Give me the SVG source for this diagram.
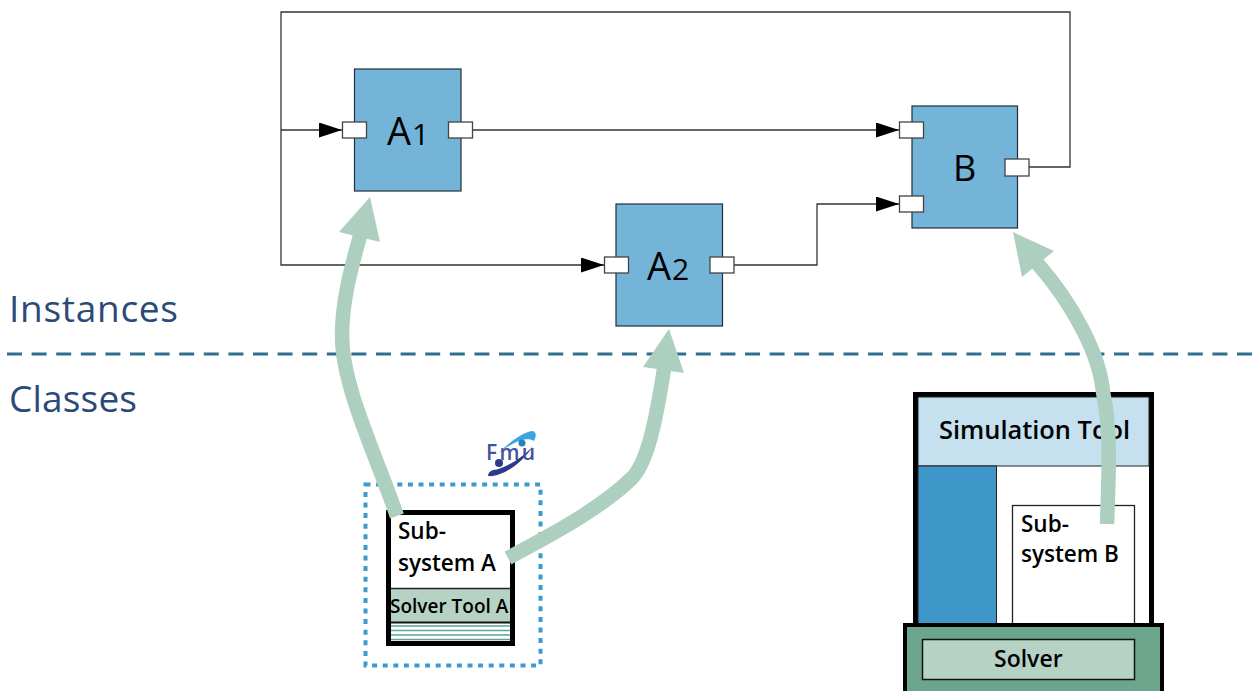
<svg xmlns="http://www.w3.org/2000/svg" width="1256" height="691" viewBox="0 0 1256 691">
<style>
text{font-family:"Open Sans","Noto Sans","DejaVu Sans",sans-serif}
.block{fill:#73b4d8;stroke:#1f2f3a;stroke-width:1.2}
.port{fill:#fff;stroke:#444;stroke-width:1.3}
.wire{fill:none;stroke:#333;stroke-width:1.3}
.flow{fill:none;stroke:#accfbf;stroke-width:14.5}
.head{fill:#accfbf}
.big{fill:#000;font-size:38px}
.sub{font-size:30px}
.lab{fill:#000;font-weight:600;font-size:22.500px}
.side{fill:#2b4a78;font-size:37px}
</style>
<defs>
<marker id="arr" markerUnits="userSpaceOnUse" markerWidth="24" markerHeight="16" refX="23" refY="7.5" orient="auto"><path d="M0 0L23 7.5L0 15Z" fill="#000"/></marker>
</defs>
<g id="divider"><path d="M7 354H1256" fill="none" stroke="#2f6f92" stroke-width="3" stroke-dasharray="15 9.6"/></g>
<text class="side" x="9" y="322" textLength="169" lengthAdjust="spacing">Instances</text>
<text class="side" x="9" y="412" textLength="128" lengthAdjust="spacing">Classes</text>
<g id="connectors">
<path class="wire" d="M1029 167H1070V12H281V265H604" marker-end="url(#arr)"/>
<path class="wire" d="M281 130H342" marker-end="url(#arr)"/>
<path class="wire" d="M472 130H899" marker-end="url(#arr)"/>
<path class="wire" d="M734 265H817V204H899" marker-end="url(#arr)"/>
</g>
<g id="A1"><rect class="block" x="354.500" y="69" width="106.500" height="122"/><rect class="port" x="342.500" y="122" width="24" height="16"/><rect class="port" x="448.500" y="122" width="24" height="16"/><text class="big" x="387" y="145">A<tspan class="sub" dx="1">1</tspan></text></g>
<g id="A2"><rect class="block" x="616" y="204" width="106.500" height="122"/><rect class="port" x="604.500" y="257" width="24" height="16"/><rect class="port" x="710" y="257" width="24" height="16"/><text class="big" x="647" y="280">A<tspan class="sub" dx="1">2</tspan></text></g>
<g id="B"><rect class="block" x="912" y="106" width="105.500" height="122"/><rect class="port" x="899.500" y="122" width="24" height="16"/><rect class="port" x="899.500" y="196" width="24" height="16"/><rect class="port" x="1005" y="159" width="24" height="17"/><text class="big" x="953" y="181" style="font-size:36px">B</text></g>
<g id="subsystem-a">
<rect x="365.500" y="484.500" width="175" height="181" fill="none" stroke="#3d9ad0" stroke-width="4" stroke-dasharray="5 5.600"/>
<rect x="388.500" y="512.500" width="124" height="131" fill="#fff" stroke="#000" stroke-width="5"/>
<rect x="391" y="588.500" width="119" height="33.500" fill="#b5d2c5"/>
<path d="M391 588.500H510" stroke="#222" stroke-width="1.300" fill="none"/><path d="M391 622.500H510" stroke="#111" stroke-width="2" fill="none"/>
<path d="M391 626H510M391 630.500H510M391 635H510M391 639.500H510" stroke="#5fa398" stroke-width="1.600" fill="none"/>
<text class="lab" x="398" y="539">Sub-</text><text class="lab" x="398" y="571">system A</text>
<text x="390" y="613" fill="#000" font-weight="600" font-size="19">Solver Tool A</text>
</g>
<g id="fmu-logo">
<path d="M498 454C510 441 525 431 533 431C537 433 536 437 534 441C527 436 512 442 498 454Z" fill="#3ba6e0"/>
<path d="M488 476C503 478 525 460 533 446C525 456 505 469 493 470C490 471 488 473 488 476Z" fill="#2b3a8c"/>
<circle cx="522" cy="443" r="3.500" fill="#2a7fc0"/><circle cx="499" cy="463" r="4" fill="#2b3a8c"/>
<text x="486" y="460" fill="#44539f" font-size="21" font-weight="600" textLength="49" lengthAdjust="spacing">Fmu</text>
</g>
<g id="simulation-tool">
<rect x="915.500" y="394.500" width="236" height="240" fill="#fff" stroke="#000" stroke-width="5"/>
<rect x="918" y="397" width="231" height="69" fill="#c5e0ee" stroke="#222" stroke-width="1"/>
<rect x="918" y="466" width="78.500" height="158" fill="#3f97c9" stroke="#222" stroke-width="1"/>
<text class="lab" x="939" y="439" style="font-size:25.400px">Simulation Tool</text>
<rect x="1012.500" y="505.500" width="122" height="119" fill="#fff" stroke="#222" stroke-width="1.300"/>
<text class="lab" x="1021" y="532">Sub-</text><text class="lab" x="1021" y="562">system B</text>
</g>
<g id="solver">
<rect x="905" y="625" width="257" height="70" fill="#6ba58c" stroke="#000" stroke-width="4"/>
<rect x="922.500" y="639.500" width="212" height="40" fill="#b5d2c5" stroke="#111" stroke-width="1.500"/>
<text class="lab" x="994" y="667" style="font-size:23px">Solver</text>
</g>
<g id="flows">
<path class="flow" d="M397 516C372 445 342 385 342 335C342 300 352 265 361 232"/><path class="head" d="M370 197L380 242L339 232Z"/>
<path class="flow" d="M508 558C545 538 600 510 633 477C648 460 656 420 664 369"/><path class="head" d="M669 329L684 373L643 367Z"/>
<path class="flow" d="M1107 524C1109 470 1111 430 1103 392C1100 356 1074 305 1037 263"/><path class="head" d="M1013 232L1054 251L1022 277Z"/>
</g>
</svg>
